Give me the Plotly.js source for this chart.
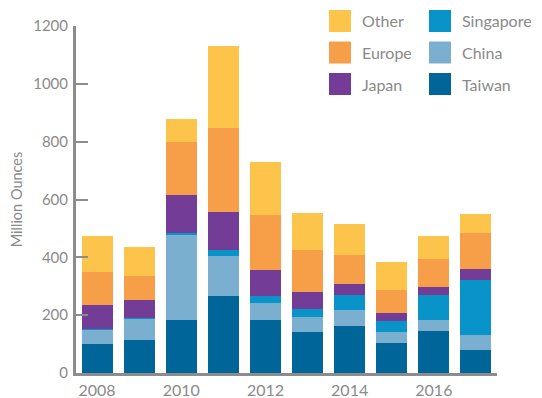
<!DOCTYPE html>
<html><head><meta charset="utf-8">
<script src="https://cdn.plot.ly/plotly-3.0.1.min.js"></script>
<style>html,body{margin:0;padding:0;background:#fff}</style>
</head><body><div id="chart" style="width:542px;height:398px"></div>
<script>
// ---- data (million ounces) ----
const years = [2008, 2009, 2010, 2011, 2012, 2013, 2014, 2015, 2016, 2017];
const taiwan    = [100, 114, 183, 266, 183, 142, 163, 104, 145, 80];
const china     = [50, 73, 294, 139, 59, 52, 55, 38, 38, 52];
const singapore = [3, 3, 7, 21, 24, 27, 52, 38, 87, 190];
const japan     = [82, 62, 132, 131, 90, 59, 38, 28, 28, 38];
const europe    = [114, 83, 183, 290, 190, 145, 100, 80, 97, 124];
const other     = [125, 101, 79, 284, 184, 128, 107, 97, 79, 66];
const seriesNames = ['Taiwan', 'China', 'Singapore', 'Japan', 'Europe', 'Other'];
const seriesValues = [taiwan, china, singapore, japan, europe, other];
const seriesColors = ['#006699', '#7BAFCF', '#0894C9', '#723C97', '#F79F48', '#FDC44C'];
const yTickVals = [0, 200, 400, 600, 800, 1000, 1200];
const xTickVals = [2008, 2010, 2012, 2014, 2016];
const legendColumns = [['Other', 'Europe', 'Japan'], ['Singapore', 'China', 'Taiwan']];

const W = 542, H = 398, L = 76, R = 45, T = 26, B = 25;
const gray = '#8C8C8C', txt = '#8A8A8A';
const font = 'Lato, "Open Sans", sans-serif';

const traces = seriesNames.map((n, i) => ({
  type: 'bar', name: n, x: years, y: seriesValues[i],
  marker: {color: seriesColors[i], line: {width: 0}},
  showlegend: false, hoverinfo: 'x+y+name'
}));

// legend built from shapes + annotations (pixel positions converted to paper)
const pw = W - L - R, ph = H - T - B;
const px = x => (x - L) / pw, py = y => (H - B - y) / ph;
const shapes = [], annotations = [];
const colX = [329, 429], rowY = [21, 52.5, 84], sw = 22;
legendColumns.forEach((col, c) => col.forEach((name, r) => {
  const color = seriesColors[seriesNames.indexOf(name)];
  shapes.push({type: 'rect', xref: 'paper', yref: 'paper',
    x0: px(colX[c]), x1: px(colX[c] + sw), y0: py(rowY[r] + sw / 2), y1: py(rowY[r] - sw / 2),
    fillcolor: color, line: {width: 0}});
  annotations.push({xref: 'paper', yref: 'paper', x: px(colX[c] + sw + 9), y: py(rowY[r]),
    xanchor: 'left', yanchor: 'middle', text: name, showarrow: false,
    font: {family: font, size: 16, color: txt}});
}));

const layout = {
  width: W, height: H,
  margin: {l: L, r: R, t: T, b: B, pad: 0},
  paper_bgcolor: '#fff', plot_bgcolor: '#fff',
  barmode: 'stack', bargap: 0.264,
  font: {family: font, size: 15, color: txt},
  xaxis: {
    range: [2007.5, 2017.5], tickvals: xTickVals, ticks: '',
    showgrid: false, zeroline: false, showline: true, linecolor: gray, linewidth: 3,
    tickfont: {family: font, size: 16, color: txt}, ticklabelstandoff: 1
  },
  yaxis: {
    range: [0, 1200], tickvals: yTickVals, ticks: 'inside', ticklen: 12, tickwidth: 2, tickcolor: gray,
    showgrid: false, zeroline: false, showline: true, linecolor: gray, linewidth: 3,
    tickfont: {family: font, size: 15, color: txt}, ticklabelstandoff: 2,
    title: {text: 'Million Ounces', font: {family: font, size: 14.5, color: txt}, standoff: 8}
  },
  shapes: shapes, annotations: annotations
};
Plotly.newPlot('chart', traces, layout, {displayModeBar: false, staticPlot: true});
</script></body></html>
